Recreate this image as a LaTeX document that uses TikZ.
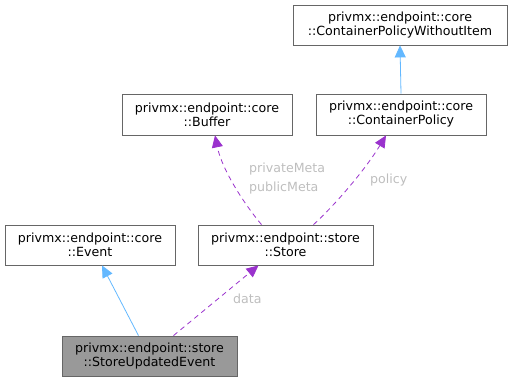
\documentclass[tikz,border=0pt]{standalone}
\usepackage{fontspec}
\setmainfont{DejaVu Sans}
\usetikzlibrary{arrows.meta}
\definecolor{edgeblue}{HTML}{63B8FF}
\definecolor{edgepurple}{HTML}{9A32CD}
\definecolor{boxgray}{HTML}{666666}
\definecolor{labelgray}{HTML}{BEBEBE}
\definecolor{fillgray}{HTML}{999999}
\tikzset{
  cls/.style={draw=boxgray, fill=white, line width=0.8pt, inner sep=0pt, align=center, font=\fontsize{12.6}{14}\selectfont, text=black},
  inh/.style={draw=edgeblue, line width=0.8pt, -{Triangle[length=12pt,width=11pt]}},
  use/.style={draw=edgepurple, line width=0.8pt, dash pattern=on 5pt off 4pt, -{Triangle[length=12pt,width=11pt]}},
  lbl/.style={text=labelgray, font=\fontsize{12.6}{14}\selectfont, inner sep=0pt},
}
\begin{document}
\begin{tikzpicture}[x=1pt,y=-1pt]
\useasboundingbox (0,0) rectangle (513,381);
\node[cls, minimum width=214pt, minimum height=40pt] (cpwi) at (400,25) {privmx::endpoint::core\\::ContainerPolicyWithoutItem};
\node[cls, minimum width=170pt, minimum height=41pt] (buf) at (207,114.5) {privmx::endpoint::core\\::Buffer};
\node[cls, minimum width=170pt, minimum height=41pt] (cp) at (401,114.5) {privmx::endpoint::core\\::ContainerPolicy};
\node[cls, minimum width=170pt, minimum height=40pt] (ev) at (90,245) {privmx::endpoint::core\\::Event};
\node[cls, minimum width=175pt, minimum height=40pt] (st) at (285.5,245) {privmx::endpoint::store\\::Store};
\node[cls, fill=fillgray, minimum width=175pt, minimum height=40pt] (sue) at (149.5,356) {privmx::endpoint::store\\::StoreUpdatedEvent};

\draw[inh] (cp.north) -- (cpwi.south);
\draw[inh] ([xshift=-11pt]sue.north) -- ([xshift=12pt]ev.south);
\draw[use] ([xshift=24pt]sue.north) -- ([xshift=-27pt]st.south);
\draw[use] ([xshift=-24pt]st.north) .. controls (245,205) and (222,170) .. ([xshift=8pt]buf.south);
\draw[use] ([xshift=28pt]st.north) .. controls (335,205) and (365,170) .. ([xshift=-15pt]cp.south);

\node[lbl, anchor=west] (ldata) at (233,299) {data};
\node[lbl, anchor=west] (lpriv) at (249,169) {privateMeta};
\node[lbl, anchor=west] (lpub) at (249,188) {publicMeta};
\node[lbl, anchor=west] (lpol) at (370,180) {policy};
\end{tikzpicture}
\end{document}
